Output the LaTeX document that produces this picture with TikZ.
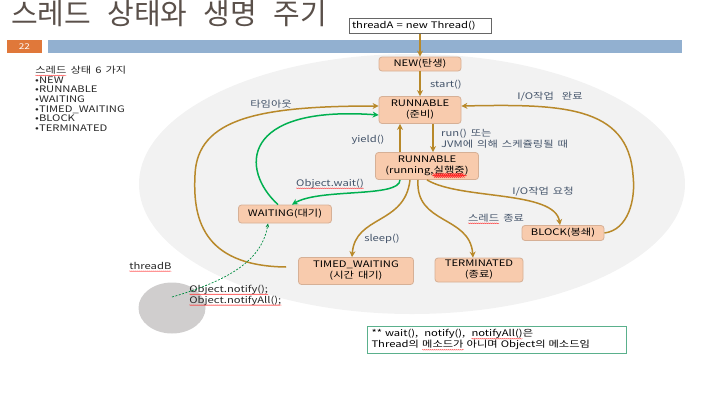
\documentclass[tikz,border=0pt]{standalone}
\usepackage{fontspec}
\setmainfont[FakeStretch=1.25,WordSpace=1.6]{Noto Sans CJK KR}
\newfontfamily\titlefont[WordSpace=2.5]{Noto Sans CJK KR}
\usetikzlibrary{arrows.meta,shapes.geometric,decorations.pathmorphing}
\definecolor{bronze}{RGB}{184,137,42}
\definecolor{grn}{RGB}{0,176,80}
\definecolor{peach}{RGB}{248,203,173}
\definecolor{peachline}{RGB}{214,176,150}
\definecolor{slate}{RGB}{68,84,106}
\definecolor{oval}{RGB}{242,242,242}
\definecolor{bar}{RGB}{146,176,208}
\definecolor{pageno}{RGB}{224,120,58}
\definecolor{noteline}{RGB}{90,176,140}
\definecolor{titlegray}{RGB}{90,80,74}
\definecolor{circ}{RGB}{208,206,206}
\newcommand\redwave[1]{\tikz[baseline=(w.base)]{\node[inner sep=0pt,outer sep=0pt,text width=,draw=none,fill=none,shape=rectangle,rounded corners=0pt,minimum width=0pt,minimum height=0pt](w){#1};\draw[-,red!85,line width=0.3pt,decorate,decoration={snake,amplitude=0.45pt,segment length=2pt}] ([yshift=-1.8pt]w.base west) -- ([yshift=-1.8pt]w.base east);}}
\tikzset{
    ST/.style ={rectangle,rounded corners=3pt,draw=peachline,fill=peach,line width=0.8pt,align=center,inner sep=0pt,font=\fontsize{9}{11}\selectfont},
    LB/.style ={inner sep=0pt,text=slate,font=\fontsize{9}{11}\selectfont},
    TX/.style ={inner sep=0pt,text=black!85,align=left,font=\fontsize{9}{9.6}\selectfont},
    AR/.style ={->,draw=bronze,line width=1.5pt},
    GA/.style ={->,draw=grn,line width=1.5pt},
    DA/.style ={-{Stealth[length=4pt,width=3.5pt]},draw=grn!80!black,line width=0.7pt,dash pattern=on 2pt off 1.5pt}}

\begin{document}
\begin{tikzpicture}[x=1pt,y=-1pt,>={Stealth[length=6pt,width=6pt]}]
        \useasboundingbox (0,0) rectangle (710,400);
        \fill[oval] (412,184) ellipse [x radius=273pt, y radius=130pt];
        \fill[pageno] (7,40) rectangle (42,53);
        \fill[bar] (48,40) rectangle (682,53);
        \node(T) [anchor=base west,inner sep=0pt,text=titlegray] at (11,24) {\titlefont\fontsize{29}{29}\selectfont 스레드 상태와 생명 주기};
        \node(22) [text=white,inner sep=0pt,font=\fontsize{8}{8}\selectfont] at (24.5,46.5) {22};
        \node(10) [TX,anchor=north west] at (35,66) {\redwave{스레드} 상태 6 가지\\•NEW\\•RUNNABLE\\•WAITING\\•TIMED\_WAITING\\•BLOCK\\•TERMINATED};
        \node(0) [draw=black!60,fill=white,minimum height = 15pt,inner xsep=3pt,inner ysep=0pt,text width=136pt,align=left,font=\fontsize{9}{11}\selectfont] at (420,26) {threadA = new Thread()};
        \node(1) [ST,minimum width = 82pt,minimum height = 14pt] at (420,64) {NEW(탄생)};
        \node(2) [ST,minimum width = 82pt,minimum height = 27pt] at (420,110) {RUNNABLE\\(준비)};
        \node(3) [ST,minimum width = 103pt,minimum height = 27pt] at (427,166) {RUNNABLE\\(running,\redwave{실행중})};
        \node(4) [ST,minimum width = 93pt,minimum height = 18pt] at (285,214) {WAITING(대기)};
        \node(5) [ST,minimum width = 115pt,minimum height = 27pt] at (356,271) {TIMED\_WAITING\\(시간 대기)};
        \node(6) [ST,minimum width = 88pt,minimum height = 24pt] at (479,270) {TERMINATED\\(종료)};
        \node(7) [ST,minimum width = 82pt,minimum height = 15pt] at (563,233) {BLOCK(봉쇄)};
        \node(8) [ellipse,fill=circ,minimum width = 67pt,minimum height = 51pt,inner sep=0pt] at (172,308) {};
        \node(9) [draw=noteline,line width=0.8pt,minimum height = 27pt,inner xsep=4pt,inner ysep=0pt,text width=251pt,align=left,font=\fontsize{9}{11}\selectfont] at (497,340) {** wait(),\ \ notify(),\ \ \redwave{notifyAll()}은\\Thread의 \redwave{메소드가} 아니며 Object의 메소드임};
        \node(11) [LB,anchor=west] at (430,85) {start()};
        \node(12) [LB] at (271,104) {타임아웃};
        \node(13) [LB] at (550,97) {I/O작업\ \ 완료};
        \node(14) [LB] at (368,140) {yield()};
        \node(15) [LB,anchor=north west,align=left] at (441,129) {run() 또는\\JVM에 의해 스케쥴링될 때};
        \node(16) [LB] at (330,184) {\redwave{Object.wait()}};
        \node(17) [LB] at (382,239) {sleep()};
        \node(18) [LB] at (496,219) {\redwave{스레드} 종료};
        \node(19) [LB] at (543,192) {I/O작업 요청};
        \node(20) [TX,anchor=west] at (129,267) {\redwave{threadB}};
        \node(21) [TX,anchor=north west] at (189,285) {\redwave{Object.notify();}\\\redwave{Object.notifyAll();}};
        \draw[AR] (0) -- (1);
        \draw[AR] (1) -- (2);
        \draw[AR] ([xshift=13pt]2.south) -- ([xshift=6pt]3.north);
        \draw[AR] ([xshift=-27pt]3.north) -- ([xshift=-20pt]2.south);
        \draw[AR] ([shift={(-12pt,4pt)}]5.west) .. controls (200,266) and (193,215) .. (195,175) .. controls (197,118) and (260,106) .. ([yshift=4pt]2.west);
        \draw[GA] ([xshift=-7pt]4.north) .. controls (240,170) and (240,105) .. ([yshift=-5pt]2.west);
        \draw[GA] ([xshift=-27pt]3.south) .. controls (400,198) and (320,188) .. ([xshift=7pt]4.north);
        \draw[AR] ([xshift=-17pt]3.south) .. controls (405,225) and (355,215) .. ([xshift=-4pt]5.north);
        \draw[AR] ([xshift=-9pt]3.south) .. controls (415,225) and (470,215) .. ([xshift=-6pt]6.north);
        \draw[AR] (3.south) .. controls (460,200) and (555,190) .. ([xshift=-3pt]7.north);
        \draw[AR] (7.east) .. controls (628,230) and (636,200) .. (633,175) .. controls (628,105) and (560,104) .. ([yshift=4pt]2.east);
        \draw[DA] ([yshift=11pt]8.center) .. controls (230,280) and (262,260) .. ([xshift=-17pt]4.south);
    \end{tikzpicture}
\end{document}
